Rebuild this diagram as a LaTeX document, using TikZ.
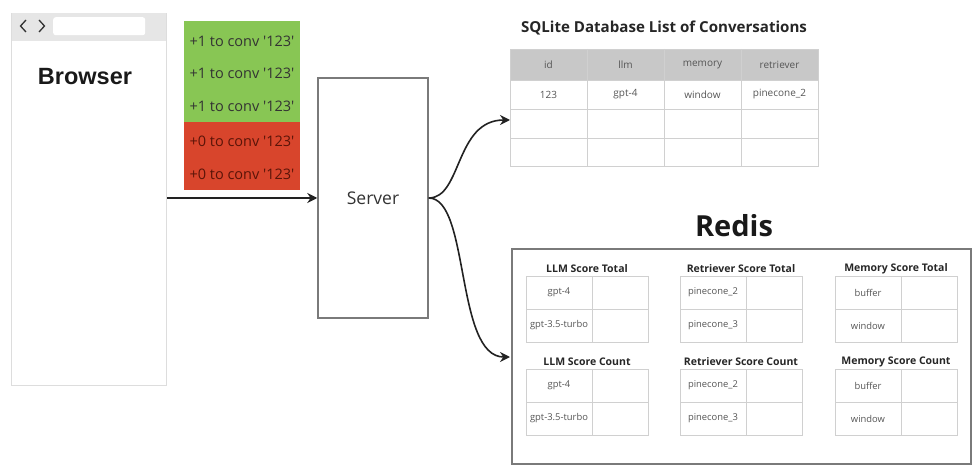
\documentclass[tikz,border=0pt]{standalone}
\usepackage{fontspec}
\setmainfont{Open Sans}
\newfontfamily\plainfont{Open Sans}
\newfontfamily\arialfont{Liberation Sans}
\usetikzlibrary{arrows.meta}
\definecolor{gridc}{HTML}{D0D0D0}
\definecolor{headc}{HTML}{C8C8C8}
\definecolor{barc}{HTML}{E6E6E6}
\definecolor{browserc}{HTML}{DDDDDD}
\definecolor{boxc}{HTML}{7A7A7A}
\definecolor{greenc}{HTML}{88C654}
\definecolor{redc}{HTML}{D8452C}
\definecolor{txtc}{HTML}{555555}
\definecolor{arrc}{HTML}{222222}
\definecolor{redtxt}{HTML}{5A1408}
\begin{document}
\begin{tikzpicture}[x=1pt,y=-1pt,
  arr/.style={draw=arrc, line width=1.6pt, -{Stealth[length=10pt,width=10pt]}},
  vote/.style={font=\plainfont\fontsize{14.5}{17}\selectfont, inner sep=0pt},
  celltxt/.style={font=\fontsize{9.4}{11}\selectfont, text=txtc, inner sep=0pt},
  headtxt/.style={font=\fontsize{10}{12}\selectfont, text=txtc, inner sep=0pt},
  subt/.style={font=\bfseries\fontsize{10.5}{12}\selectfont, text=black!85, inner sep=0pt},
  grid/.style={draw=gridc, line width=0.8pt}]
\useasboundingbox (0,0) rectangle (978,473);

% Browser
\node[draw=browserc, line width=1pt, minimum width=155pt, minimum height=372pt, inner sep=0pt, anchor=north west] (browser) at (11,13) {};
\fill[barc] (11.5,13.5) rectangle (165.5,41);
\node[fill=white, rounded corners=2.5pt, minimum width=92pt, minimum height=18pt, inner sep=0pt, anchor=north west] (addr) at (53,17) {};
\draw[line width=1.3pt, black!80] (26,20) -- (20.5,26) -- (26,32);
\draw[line width=1.3pt, black!80] (39,20) -- (44.5,26) -- (39,32);
\node[font=\arialfont\bfseries\fontsize{23.5}{27}\selectfont, text=black!90, inner sep=0pt] (btitle) at (85,77) {Browser};

% Votes
\fill[greenc] (184,21) rectangle (300,122);
\fill[redc] (184,122) rectangle (300,190);
\node[vote, text=black!80] (v1) at (242,41) {+1 to conv '123'};
\node[vote, text=black!80] (v2) at (242,73.5) {+1 to conv '123'};
\node[vote, text=black!80] (v3) at (242,106) {+1 to conv '123'};
\node[vote, text=redtxt] (v4) at (242,141) {+0 to conv '123'};
\node[vote, text=redtxt] (v5) at (242,174) {+0 to conv '123'};

% Server
\node[draw=boxc, line width=1.5pt, minimum width=110pt, minimum height=240pt, inner sep=0pt, font=\fontsize{17.5}{20}\selectfont, text=black!80] (server) at (373,198) {Server};

\draw[arr] (browser.east |- server.west) -- (server.west);

% SQLite table
\node[font=\bfseries\fontsize{15.1}{18}\selectfont, text=black!85, inner sep=0pt] (sqltitle) at (664,28) {SQLite Database List of Conversations};
\node[minimum width=308pt, minimum height=117pt, inner sep=0pt, anchor=north west] (sql) at (510,49) {};
\fill[headc] (510,49) rectangle (818,80);
\draw[grid] (510,49) rectangle (818,166);
\foreach \yy in {80,109,138} \draw[grid] (510,\yy) -- (818,\yy);
\foreach \xx in {587,664,741} \draw[grid] (\xx,49) -- (\xx,166);
\node[headtxt] (h1) at (548.5,64.5) {id};
\node[headtxt] (h2) at (625.5,64.5) {llm};
\node[headtxt] (h3) at (702.5,64.5) {memory};
\node[headtxt] (h4) at (779.5,64.5) {retriever};
\node[headtxt] (r1) at (548.5,94.5) {123};
\node[headtxt] (r2) at (625.5,94.5) {gpt-4};
\node[headtxt] (r3) at (702.5,94.5) {window};
\node[headtxt] (r4) at (779.5,94.5) {pinecone\_2};

% Redis
\node[font=\bfseries\fontsize{29}{34}\selectfont, text=black!90, inner sep=0pt] (redistitle) at (734,226) {Redis};
\node[draw=boxc, line width=2pt, minimum width=459pt, minimum height=215pt, inner sep=0pt, anchor=north west] (redis) at (511,248) {};

\foreach \xx/\yy/\tt/\aa/\bb/\nn in {
  526/276/LLM Score Total/gpt-4/gpt-3.5-turbo/lt,
  680/276/Retriever Score Total/pinecone\_2/pinecone\_3/rt,
  835/276/Memory Score Total/buffer/window/mt,
  526/369/LLM Score Count/gpt-4/gpt-3.5-turbo/lc,
  680/369/Retriever Score Count/pinecone\_2/pinecone\_3/rc,
  835/369/Memory Score Count/buffer/window/mc}{
  \node[subt] (\nn-title) at (\xx+61,\yy-7) {\tt};
  \draw[grid] (\xx,\yy) rectangle (\xx+122,\yy+66);
  \draw[grid] (\xx+66,\yy) -- (\xx+66,\yy+66);
  \draw[grid] (\xx,\yy+33) -- (\xx+122,\yy+33);
  \node[celltxt] (\nn-a) at (\xx+33,\yy+16.5) {\aa};
  \node[celltxt] (\nn-b) at (\xx+33,\yy+49.5) {\bb};
}

% Connectors
\coordinate (sqlin) at (510,120);
\coordinate (redisin) at (510,357);
\draw[arr] (server.east) .. controls (462,198) and (455,120) .. (sqlin);
\draw[arr] (server.east) .. controls (470,198) and (455,357) .. (redisin);
\end{tikzpicture}
\end{document}
